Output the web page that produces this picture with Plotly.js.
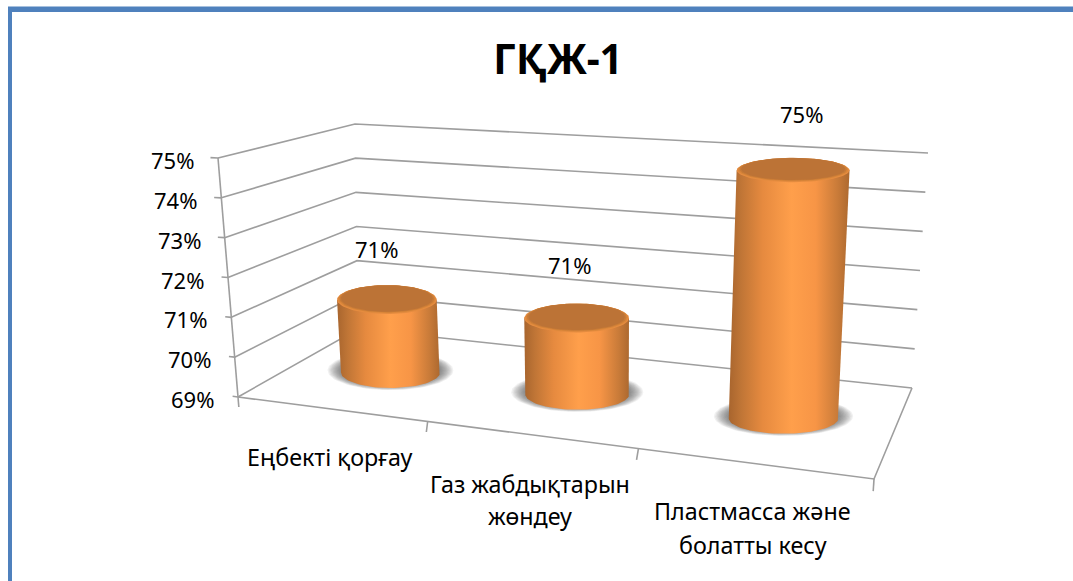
<!DOCTYPE html>
<html><head><meta charset="utf-8">
<script src="https://cdn.plot.ly/plotly-3.0.1.min.js"></script>
<style>html,body{margin:0;padding:0;background:#fff}#c{width:1073px;height:581px}</style></head>
<body><div id="c"></div>
<script>
const titleText = "ГҚЖ-1";
const categories = [["Еңбекті қорғау"],["Газ жабдықтарын","жөндеу"],["Пластмасса және","болатты кесу"]];
const values = [71,71,75];
const axisTicks = [69,70,71,72,73,74,75];

// perspective of the box: floor plane and top plane, corners on the plot plane
const floorQuad = [[238,397],[874,479],[912,388],[358,329]];
const topQuad = [[218,158],[893,188],[928,153],[355,124]];
const heightTerm = [-31,-245.5,-0.0506];
const zMin = 69, zMax = 75, nCat = categories.length;

function quadCoef(q){
  const [[x0,y0],[x1,y1],[x2,y2],[x3,y3]]=q;
  const sx=x0-x1+x2-x3, sy=y0-y1+y2-y3, dx1=x1-x2, dx2=x3-x2, dy1=y1-y2, dy2=y3-y2, den=dx1*dy2-dx2*dy1;
  const G=(sx*dy2-dx2*sy)/den, H=(dx1*sy-sx*dy1)/den;
  return {A:x1-x0+G*x1,B:x3-x0+H*x3,C:x0,D:y1-y0+G*y1,E:y3-y0+H*y3,F:y0,G,H};
}
const fc=quadCoef(floorQuad), tc=quadCoef(topQuad);
const planePt=(c,s,t)=>{const w=c.G*s+c.H*t+1;return [(c.A*s+c.B*t+c.C)/w,(c.D*s+c.E*t+c.F)/w];};
// box frame: category position, depth 0..1, axis value -> plot plane
function proj(cat,depth,val){
  const s=cat/nCat,n=(val-zMin)/(zMax-zMin);
  const a=planePt(fc,s,depth),b=planePt(tc,s,depth);
  return [a[0]+(b[0]-a[0])*n,a[1]+(b[1]-a[1])*n];
}
// columns: single camera built on the floor plane
function cam(cat,depth,val){
  const s=cat/nCat,t=depth,n=(val-zMin)/(zMax-zMin);
  const w=fc.G*s+fc.H*t+1+heightTerm[2]*n;
  return [(fc.A*s+fc.B*t+fc.C+heightTerm[0]*n)/w,(fc.D*s+fc.E*t+fc.F+heightTerm[1]*n)/w];
}

const traces=[];
function path(pts,extra){traces.push(Object.assign({type:'scatter',mode:'lines',x:pts.map(p=>p[0]),y:pts.map(p=>p[1]),hoverinfo:'skip',showlegend:false,cliponaxis:false},extra));}
const gridLine={line:{color:'#9e9e9e',width:1.6}};
axisTicks.forEach(k=>{
  path([proj(0,0,k),proj(0,1,k),proj(nCat,1,k)],gridLine);
  path([proj(-0.03,0,k),proj(0,0,k)],gridLine);
});
path([proj(0,0,zMin),proj(0,0,zMax)],gridLine);
path([proj(0,0,zMin),proj(nCat,0,zMin),proj(nCat,1,zMin)],gridLine);
for(let i=0;i<=nCat;i++)path([proj(i,0,zMin),proj(i,0,zMin-0.25)],gridLine);

const ru=0.245, depth=0.51, drop=2.5, NP=96;
const TH=[];for(let i=0;i<=NP;i++)TH.push(i/NP*2*Math.PI);
function ell(cu,val,k,dy){
  const c=cam(cu,depth,val), n=(val-zMin)/(zMax-zMin);
  const a=25.5+0.55*Math.abs(cam(cu+ru,depth,val)[0]-cam(cu-ru,depth,val)[0])/2, b=15.5-3.5*n;
  return TH.map(t=>[c[0]+k*a*Math.cos(t),c[1]+drop+(dy||0)+k*b*Math.sin(t)]);
}
const bodyScale=[[0,'#a8652e'],[0.1,'#bf7536'],[0.28,'#e68a3f'],[0.52,'#ff9f4b'],[0.72,'#f79546'],[0.9,'#c97b39'],[1,'#ad692f']];
const noLine={color:'rgba(0,0,0,0)',width:0};
values.forEach((v,i)=>{
  const cu=i+0.5;
  for(let j=0;j<12;j++){const k=1.27-j*0.025;path(ell(cu,zMin,k,-2),{fill:'toself',fillcolor:'rgba(60,60,60,0.07)',line:noLine});}
  const bot=ell(cu,zMin,1), top=ell(cu,v,1);
  // silhouette: top right, then the front of the base (t from 0 to PI), then top left
  const arc=bot.slice(0,NP/2+1);
  path([top[0]].concat(arc,[top[NP/2],top[0]]),{fill:'toself',line:noLine,fillgradient:{type:'horizontal',colorscale:bodyScale}});
  [[1,'#e58c40',0],[0.975,'#d98639',-0.6],[0.95,'#c87b37',-1],[0.92,'#bc7336',-1.2]].forEach(([k,c,dy])=>path(ell(cu,v,k,dy),{fill:'toself',fillcolor:c,line:noLine}));
});

const font=(s)=>({family:'"Noto Sans",sans-serif',size:s,color:'#000'});
const ann=[];
axisTicks.forEach(k=>{const p=proj(0,0,k);ann.push({x:p[0],y:p[1],xref:'x',yref:'y',text:k+'%',showarrow:false,xanchor:'right',yanchor:'middle',xshift:-22,yshift:-2,font:font(22)});});
const catShift=[[[0,-48]],[[0,-49],[0,-81]],[[0,-48],[0,-82]]];
categories.forEach((ls,i)=>ls.forEach((l,j)=>{const p=proj(i+0.5,0,zMin);ann.push({x:p[0],y:p[1],xref:'x',yref:'y',text:l,showarrow:false,xanchor:'center',yanchor:'middle',xshift:catShift[i][j][0],yshift:catShift[i][j][1],font:font(23.3)});}));
const lblShift=[[-10,48],[-7,51],[8,53.5]];
values.forEach((v,i)=>{const p=cam(i+0.5,depth,v);ann.push({x:p[0],y:p[1],xref:'x',yref:'y',text:Math.round(v)+'%',showarrow:false,xanchor:'center',yanchor:'middle',xshift:lblShift[i][0],yshift:lblShift[i][1],font:font(22)});});

const hidden={visible:false,fixedrange:true};
const layout={width:1073,height:581,margin:{l:0,r:0,t:0,b:0},paper_bgcolor:'#fff',plot_bgcolor:'#fff',showlegend:false,
 xaxis:{...hidden,range:[0,1073]},yaxis:{...hidden,range:[581,0]},
 title:{text:'<b>'+titleText+'</b>',x:558/1073,xanchor:'center',y:1-60/581,yanchor:'middle',font:{family:'"Noto Sans",sans-serif',size:40.5,color:'#000'}},
 annotations:ann,
 shapes:[{type:'rect',xref:'paper',yref:'paper',x0:8/1073,x1:12/1073,y0:0,y1:1-7/581,fillcolor:'#4f81bd',line:{width:0},layer:'below'},
         {type:'rect',xref:'paper',yref:'paper',x0:8/1073,x1:1,y0:1-12/581,y1:1-6.5/581,fillcolor:'#4f81bd',line:{width:0},layer:'below'}]};
Plotly.newPlot('c',traces,layout,{displayModeBar:false,staticPlot:true});
</script></body></html>
